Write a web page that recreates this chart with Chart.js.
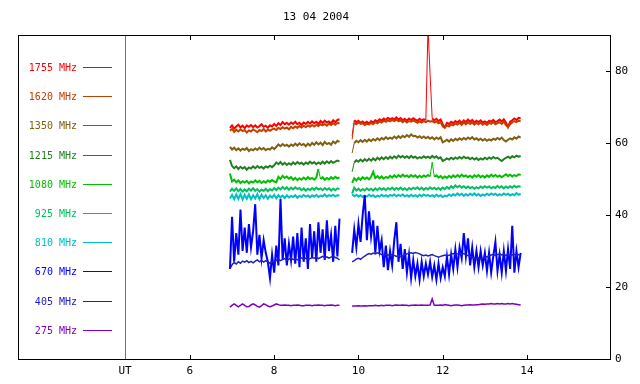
<!DOCTYPE html>
<html>
<head>
<meta charset="utf-8">
<script src="https://cdn.jsdelivr.net/npm/chart.js@4"></script>
<style>
  body { margin: 0; background: #fff; }
  canvas { display: block; }
</style>
</head>
<body>
<canvas id="myChart" width="640" height="384"></canvas>
<script>
// sample times (UT hours), a null at 9.70 marks the data gap
const times = [
  6.95, 7.00, 7.05, 7.10, 7.15, 7.20, 7.25, 7.30, 7.35, 7.40,
  7.45, 7.50, 7.55, 7.60, 7.65, 7.70, 7.75, 7.80, 7.85, 7.90,
  7.95, 8.00, 8.05, 8.10, 8.15, 8.20, 8.25, 8.30, 8.35, 8.40,
  8.45, 8.50, 8.55, 8.60, 8.65, 8.70, 8.75, 8.80, 8.85, 8.90,
  8.95, 9.00, 9.05, 9.10, 9.15, 9.20, 9.25, 9.30, 9.35, 9.40,
  9.45, 9.50, 9.55,
  9.70,
  9.85, 9.90, 9.95, 10.00, 10.05, 10.10, 10.15, 10.20, 10.25, 10.30,
  10.35, 10.40, 10.45, 10.50, 10.55, 10.60, 10.65, 10.70, 10.75, 10.80,
  10.85, 10.90, 10.95, 11.00, 11.05, 11.10, 11.15, 11.20, 11.25, 11.30,
  11.35, 11.40, 11.45, 11.50, 11.55, 11.60, 11.65, 11.70, 11.75, 11.80,
  11.85, 11.90, 11.95, 12.00, 12.05, 12.10, 12.15, 12.20, 12.25, 12.30,
  12.35, 12.40, 12.45, 12.50, 12.55, 12.60, 12.65, 12.70, 12.75, 12.80,
  12.85, 12.90, 12.95, 13.00, 13.05, 13.10, 13.15, 13.20, 13.25, 13.30,
  13.35, 13.40, 13.45, 13.50, 13.55, 13.60, 13.65, 13.70, 13.75, 13.80,
  13.85
];

const labels = ["1755 MHz", "1620 MHz", "1350 MHz", "1215 MHz", "1080 MHz",
                "925 MHz", "810 MHz", "670 MHz", "405 MHz", "275 MHz"];
const colors = ["#ff0000", "#c04000", "#806010", "#208020", "#00c000",
                "#00c060", "#00c0c0", "#0000ff", "#2020c0", "#8000c0"];

const xTickValues = [6, 8, 10, 12, 14];
const yTickValues = [0, 20, 40, 60, 80];
const utPosition = 4.46;
const title = "13 04 2004";

const f1755 = [
  64.2, 64.9, 64.0, 64.6, 65.1, 64.3, 64.8, 64.1, 64.9, 64.5,
  65.0, 64.4, 64.9, 64.3, 64.7, 65.2, 64.5, 64.8, 64.2, 64.9,
  64.6, 65.3, 64.7, 65.5, 65.0, 65.8, 65.2, 65.6, 65.1, 65.7,
  65.3, 65.9, 65.2, 65.6, 65.0, 65.7, 65.3, 65.9, 65.4, 66.0,
  65.5, 65.9, 65.3, 66.1, 65.6, 66.2, 65.7, 66.0, 65.5, 66.3,
  65.8, 66.4, 66.6,
  null,
  62.0, 66.3, 65.8, 66.2, 65.6, 66.0, 65.5, 65.9, 65.4, 66.1,
  65.7, 66.3, 66.0, 66.6, 66.2, 66.8, 66.4, 67.0, 66.5, 66.9,
  66.6, 67.1, 66.5, 66.9, 66.3, 66.7, 66.2, 66.8, 66.4, 66.9,
  66.5, 66.2, 66.7, 66.3, 66.6, 66.4, 92.0, 79.0, 66.8, 66.3,
  66.7, 66.1, 66.5, 65.2, 64.3, 65.6, 65.3, 65.9, 65.5, 66.1,
  65.7, 66.2, 65.6, 66.3, 65.8, 66.5, 65.9, 66.4, 65.7, 66.2,
  65.8, 66.3, 65.7, 66.0, 65.6, 66.2, 65.9, 66.4, 65.8, 66.1,
  66.5, 66.0, 66.6, 65.7, 64.4, 65.9, 66.3, 66.8, 66.4, 67.0,
  66.8
];
const f1620 = [
  63.4, 63.9, 63.1, 63.7, 63.2, 63.8, 63.3, 63.6, 62.9, 63.5,
  63.2, 63.8, 63.4, 63.0, 63.6, 63.3, 63.9, 63.2, 63.7, 63.4,
  63.8, 64.0, 63.6, 64.2, 63.9, 64.4, 64.0, 64.3, 63.8, 64.5,
  64.1, 64.6, 64.2, 64.7, 64.3, 64.8, 64.4, 64.9, 64.5, 65.0,
  64.6, 65.1, 64.7, 65.2, 64.9, 65.3, 64.8, 65.4, 65.0, 65.5,
  65.1, 65.6, 65.4,
  null,
  61.0, 65.6, 65.2, 65.7, 65.3, 65.5, 65.0, 65.4, 65.1, 65.6,
  65.2, 65.8, 65.5, 66.0, 65.7, 66.2, 65.9, 66.3, 66.0, 66.4,
  66.1, 66.5, 66.0, 66.3, 65.8, 66.2, 65.7, 66.1, 65.9, 66.3,
  65.9, 65.6, 66.0, 65.7, 66.1, 65.8, 66.2, 65.9, 66.1, 65.7,
  66.0, 65.5, 65.8, 64.6, 64.3, 64.9, 64.6, 65.2, 64.9, 65.4,
  65.1, 65.6, 65.0, 65.7, 65.2, 65.8, 65.3, 65.7, 65.1, 65.6,
  65.2, 65.7, 65.1, 65.5, 65.0, 65.6, 65.3, 65.8, 65.2, 65.5,
  65.8, 65.3, 65.9, 65.0, 64.5, 65.2, 65.7, 66.1, 65.8, 66.2,
  66.0
];
const f1350 = [
  58.9, 58.2, 58.7, 58.0, 58.5, 57.9, 58.4, 58.1, 58.6, 57.8,
  58.3, 58.0, 58.5, 58.1, 58.7, 58.2, 58.6, 58.0, 58.4, 58.2,
  58.8, 58.3, 58.9, 59.6, 59.1, 59.7, 59.2, 59.5, 59.0, 59.6,
  59.2, 59.8, 59.3, 59.9, 59.4, 59.7, 59.1, 59.8, 59.3, 60.0,
  59.5, 60.2, 59.6, 60.1, 59.4, 60.3, 59.7, 60.0, 59.5, 60.4,
  59.9, 60.6, 60.3,
  null,
  57.2, 60.0, 60.6, 60.2, 60.8, 60.3, 60.9, 60.4, 61.0, 60.5,
  61.1, 60.7, 61.3, 60.8, 61.4, 61.0, 61.6, 61.1, 61.5, 61.2,
  61.8, 61.3, 61.9, 61.4, 62.0, 61.6, 62.2, 61.7, 62.4, 61.9,
  62.0, 61.5, 61.9, 61.4, 61.8, 61.3, 61.7, 61.2, 61.6, 61.0,
  61.5, 61.1, 61.6, 60.2, 60.5, 60.9, 60.4, 61.0, 60.6, 61.2,
  60.8, 61.3, 60.9, 61.4, 61.0, 61.5, 61.1, 61.6, 61.0, 61.3,
  60.8, 61.2, 60.7, 61.1, 60.6, 61.0, 60.7, 61.2, 60.9, 61.4,
  61.0, 61.5, 60.8, 60.4, 60.9, 61.3, 61.0, 61.6, 61.2, 61.8,
  61.5
];
const f1215 = [
  55.3, 53.6, 53.0, 53.5, 52.8, 53.4, 52.9, 53.3, 52.6, 53.2,
  52.9, 53.5, 53.0, 53.6, 53.1, 53.4, 52.9, 53.5, 53.2, 53.7,
  53.3, 53.8, 54.6, 54.1, 54.7, 54.0, 54.5, 53.9, 54.4, 54.0,
  54.6, 54.1, 54.7, 54.2, 54.5, 54.0, 54.6, 54.2, 54.8, 54.3,
  54.7, 54.1, 54.6, 54.2, 54.8, 54.3, 54.9, 54.4, 55.0, 54.5,
  54.8, 55.1, 54.9,
  null,
  52.0, 54.6, 55.2, 54.8, 55.4, 54.9, 55.5, 55.0, 55.6, 55.1,
  55.7, 55.2, 55.9, 55.4, 56.0, 55.5, 56.1, 55.6, 56.2, 55.7,
  56.3, 55.8, 56.5, 56.0, 56.4, 55.9, 56.3, 55.8, 56.4, 55.9,
  56.2, 55.7, 56.1, 55.8, 56.3, 55.9, 56.2, 55.8, 56.4, 55.9,
  56.3, 55.7, 56.0, 55.0, 55.3, 55.7, 55.4, 55.9, 55.5, 56.0,
  55.6, 56.1, 55.7, 56.2, 55.8, 56.0, 55.5, 55.9, 55.4, 55.8,
  55.3, 55.7, 55.4, 55.9, 55.5, 56.0, 55.6, 56.1, 55.7, 55.9,
  55.4, 55.0, 55.5, 55.9, 56.2, 55.8, 56.3, 56.0, 56.5, 56.2,
  56.4
];
const f1080 = [
  51.5, 49.3, 49.8, 49.1, 49.6, 48.9, 49.4, 49.0, 49.5, 48.8,
  49.3, 49.0, 49.6, 49.1, 49.5, 48.9, 49.4, 49.0, 49.6, 49.2,
  49.7, 49.3, 49.1, 50.6, 50.0, 50.9, 50.3, 50.7, 50.1, 50.5,
  49.8, 50.3, 49.7, 50.2, 49.8, 50.4, 49.9, 50.5, 50.0, 50.3,
  49.8, 50.4, 52.8, 50.0, 50.5, 49.8, 50.3, 49.9, 50.5, 50.0,
  50.6, 50.2, 50.4,
  null,
  48.9, 50.2, 49.6, 50.3, 49.8, 50.5, 50.0, 50.4, 49.9, 50.6,
  52.0, 50.3, 50.8, 50.2, 50.7, 50.1, 50.6, 50.3, 50.9, 50.4,
  51.0, 50.5, 51.1, 50.6, 51.2, 50.7, 51.0, 50.5, 51.1, 50.6,
  51.0, 50.4, 50.9, 50.5, 51.0, 50.6, 51.1, 50.7, 54.7, 50.6,
  51.0, 50.4, 50.8, 50.2, 50.7, 50.3, 50.9, 50.4, 51.0, 50.5,
  51.1, 50.6, 51.2, 50.7, 51.0, 50.5, 50.9, 50.4, 51.0, 50.6,
  51.1, 50.5, 50.9, 50.4, 51.0, 50.6, 51.2, 50.7, 51.1, 50.6,
  51.0, 50.5, 50.9, 51.3, 50.8, 51.2, 50.7, 51.1, 50.8, 51.3,
  51.1
];
const f925 = [
  46.5, 47.3, 46.7, 47.4, 46.6, 47.2, 46.5, 47.1, 46.6, 47.3,
  46.8, 47.4, 46.7, 47.2, 46.5, 47.1, 46.7, 47.3, 46.6, 47.2,
  46.8, 47.5, 46.9, 47.6, 47.1, 47.8, 47.2, 47.7, 47.0, 47.6,
  47.1, 47.7, 47.2, 47.5, 46.9, 47.4, 46.8, 47.3, 46.9, 47.5,
  47.0, 47.6, 47.1, 47.4, 46.9, 47.5, 47.0, 47.4, 46.8, 47.3,
  46.9, 47.4, 47.2,
  null,
  46.0, 47.6, 46.8, 47.3, 46.7, 47.2, 46.8, 47.4, 46.9, 47.3,
  46.8, 47.4, 46.9, 47.5, 47.0, 47.4, 46.9, 47.5, 47.1, 47.6,
  47.0, 47.5, 47.1, 47.6, 47.0, 47.4, 46.9, 47.5, 47.1, 47.6,
  47.2, 47.7, 47.1, 47.6, 47.0, 47.5, 47.1, 47.7, 47.2, 47.6,
  47.1, 47.5, 47.0, 47.6, 47.2, 47.8, 47.3, 48.0, 47.5, 48.2,
  47.7, 48.1, 47.6, 48.0, 47.5, 47.9, 47.4, 47.8, 47.3, 47.7,
  47.4, 47.9, 47.5, 48.0, 47.6, 47.9, 47.4, 47.8, 47.5, 48.1,
  47.6, 48.0, 47.4, 47.9, 47.5, 48.0, 47.6, 48.1, 47.7, 48.0,
  47.8
];
const f810 = [
  44.6, 45.6, 44.4, 45.7, 44.5, 45.8, 44.3, 45.6, 44.5, 45.7,
  44.4, 45.5, 44.6, 45.8, 44.4, 45.6, 44.7, 45.5, 44.5, 45.4,
  44.8, 45.6, 44.6, 45.5, 44.9, 45.4, 44.7, 45.5, 44.9, 45.3,
  45.0, 45.5, 44.8, 45.3, 45.0, 45.6, 45.1, 45.4, 44.9, 45.5,
  45.1, 45.6, 45.0, 45.4, 45.2, 45.7, 45.1, 45.5, 45.3, 45.6,
  45.2, 45.5, 45.4,
  null,
  45.8, 45.2, 45.6, 45.1, 45.5, 45.0, 45.4, 45.1, 45.6, 45.2,
  45.5, 45.0, 45.4, 45.1, 45.6, 45.2, 45.5, 45.1, 45.6, 45.3,
  45.7, 45.2, 45.6, 45.3, 45.7, 45.2, 45.5, 45.1, 45.6, 45.2,
  45.5, 45.1, 45.6, 45.2, 45.7, 45.3, 45.6, 45.2, 45.5, 45.1,
  45.6, 45.2, 45.5, 45.0, 45.4, 45.2, 45.7, 45.3, 45.8, 45.4,
  46.0, 45.5, 45.9, 45.3, 45.8, 45.4, 45.9, 45.5, 46.0, 45.4,
  45.8, 45.3, 45.7, 45.4, 45.9, 45.5, 46.0, 45.6, 45.9, 45.4,
  45.8, 45.5, 46.0, 45.6, 45.9, 45.4, 45.8, 45.5, 46.1, 45.6,
  45.9
];
const f670 = [
  25.0, 39.5, 27.0, 35.0, 29.0, 41.5, 30.0, 36.5, 29.5, 37.5,
  31.0, 35.5, 43.0, 29.0, 34.5, 28.0, 33.0, 29.5, 27.0, 22.5,
  29.0, 24.0, 31.5, 26.0, 44.5, 27.5, 33.5, 26.0, 32.0, 27.5,
  34.0, 26.5, 35.0, 25.5, 36.5, 27.0, 33.5, 25.0, 37.5, 28.0,
  35.5, 27.0, 38.0, 29.5, 36.0, 27.5, 38.5, 30.0, 34.5, 27.0,
  37.0, 28.5, 39.0,
  null,
  29.5, 36.0, 31.0, 37.5, 32.5, 40.0, 45.5, 33.0, 41.0, 34.0,
  38.5, 29.5, 37.0, 30.0, 33.0, 25.5, 31.5, 24.7, 30.0, 26.0,
  33.0, 38.0, 27.0, 32.0, 25.0, 30.5, 24.0, 29.0, 22.5, 27.5,
  23.0, 26.5, 22.0, 27.0, 23.0, 26.5, 23.5, 27.0, 22.8, 26.0,
  22.0, 26.5, 22.5, 25.5, 23.0, 28.5, 23.5, 29.0, 25.0, 30.5,
  25.5, 31.0, 28.0, 35.0, 28.5, 33.5, 26.0, 31.0, 25.5, 30.0,
  25.5, 30.0, 26.0, 29.5, 24.5, 29.5, 24.0, 28.5, 32.5, 24.5,
  29.0, 24.0, 30.0, 24.5, 30.5, 25.0, 37.0, 24.0, 30.0, 25.5,
  29.5
];
const f405 = [
  25.0, 26.2, 26.8, 26.4, 27.0, 26.6, 27.2, 26.9, 27.3, 26.8,
  27.1, 26.7, 27.2, 27.5, 27.0, 27.4, 26.9, 27.3, 27.0, 26.6,
  27.1, 26.8, 27.4, 27.8, 27.3, 27.6, 27.9, 27.4, 27.7, 28.0,
  27.6, 27.9, 27.5, 27.8, 28.1, 27.7, 28.0, 27.6, 27.9, 28.2,
  28.0, 28.3, 27.9, 28.2, 28.5, 28.1, 28.4, 28.0, 28.3, 28.6,
  28.2, 28.0, 27.5,
  null,
  27.0, 27.3, 27.8, 28.0, 27.7, 28.2, 28.6, 29.0, 29.3, 29.1,
  29.4, 29.2, 29.5, 29.3, 29.0, 28.8, 29.1, 28.9, 28.7, 29.0,
  28.8, 28.5, 28.7, 28.4, 28.6, 28.9, 29.2, 29.4, 29.5, 29.3,
  29.6, 29.4, 29.2, 28.9, 28.7, 28.9, 28.6, 28.8, 29.0, 28.7,
  28.5, 28.3, 28.5, 28.7, 28.9, 28.6, 28.8, 29.1, 29.3, 29.0,
  29.2, 29.4, 29.1, 29.3, 29.0, 28.7, 28.5, 28.2, 28.0, 27.9,
  28.1, 27.8, 28.0, 28.2, 28.4, 28.6, 28.9, 29.1, 28.8, 29.0,
  29.2, 28.9, 29.1, 28.8, 29.0, 28.7, 28.9, 29.1, 28.8, 29.0,
  28.7
];
const f275 = [
  14.4, 14.9, 15.3, 14.9, 14.5, 14.9, 15.3, 14.9, 14.5, 14.6,
  15.0, 15.3, 15.0, 14.6, 14.4, 14.8, 15.3, 15.1, 14.7, 14.5,
  14.7, 15.0, 15.3, 15.1, 14.9, 14.9, 15.0, 14.9, 14.9, 14.8,
  14.9, 14.9, 15.0, 14.9, 14.8, 14.8, 14.9, 14.9, 14.9, 14.8,
  14.9, 14.9, 15.0, 14.9, 14.9, 14.8, 14.9, 14.9, 15.0, 14.9,
  14.8, 14.9, 14.9,
  null,
  14.7, 14.7, 14.7, 14.8, 14.7, 14.7, 14.8, 14.7, 14.8, 14.8,
  14.8, 14.9, 14.8, 14.8, 14.9, 14.8, 14.9, 14.9, 14.9, 14.8,
  14.9, 15.0, 14.9, 14.9, 15.0, 14.9, 14.9, 14.8, 14.9, 14.9,
  15.0, 14.9, 14.9, 15.0, 14.9, 14.9, 14.9, 15.0, 16.7, 14.9,
  14.9, 14.9, 15.0, 14.9, 15.1, 15.0, 14.9, 14.8, 14.9, 15.0,
  15.0, 14.9, 14.8, 14.9, 15.0, 15.0, 15.1, 15.0, 15.0, 15.1,
  15.1, 15.2, 15.3, 15.2, 15.3, 15.3, 15.4, 15.3, 15.3, 15.4,
  15.3, 15.4, 15.3, 15.3, 15.4, 15.3, 15.4, 15.3, 15.2, 15.1,
  15.0
];

const series = [f1755, f1620, f1350, f1215, f1080, f925, f810, f670, f405, f275];
// noisy channels look like thick bands in the original
const lineWidths = [2, 2, 2, 2, 2, 2, 2, 2, 1.5, 1.5];
const monoFont = "'DejaVu Sans Mono', monospace";

// isolated spikes are drawn thin, like single samples
const thinSpikes = ctx => {
  const a = ctx.p0.parsed.y, b = ctx.p1.parsed.y;
  return Math.abs(a - b) > 2.5 && Math.max(a, b) > 52 ? 1 : undefined;
};

// frame, inward ticks, UT divider, title and the side legend (gnuplot look)
const gnuplotFrame = {
  id: "gnuplotFrame",
  beforeDatasetsDraw(chart) {
    const { ctx, chartArea: a, scales: { x } } = chart;
    const px = Math.round(x.getPixelForValue(utPosition));
    ctx.save();
    ctx.fillStyle = "#707070";
    ctx.fillRect(px, a.top, 1, a.bottom - a.top);
    ctx.restore();
  },
  afterDraw(chart) {
    const { ctx, chartArea: a, scales: { x, y } } = chart;
    ctx.save();
    ctx.fillStyle = "#000";
    const l = Math.round(a.left), r = Math.round(a.right);
    const t = Math.round(a.top), b = Math.round(a.bottom);
    ctx.fillRect(l, t, r - l + 1, 1);
    ctx.fillRect(l, b, r - l + 1, 1);
    ctx.fillRect(l, t, 1, b - t + 1);
    ctx.fillRect(r, t, 1, b - t + 1);
    xTickValues.forEach(v => {
      const px = Math.round(x.getPixelForValue(v));
      ctx.fillRect(px, t, 1, 5);
      ctx.fillRect(px, b - 4, 1, 5);
    });
    yTickValues.forEach(v => {
      const py = Math.round(y.getPixelForValue(v));
      ctx.fillRect(r - 4, py, 5, 1);
    });

    ctx.font = "11px " + monoFont;
    ctx.textAlign = "center";
    ctx.textBaseline = "middle";
    ctx.fillText(title, 316, 17);

    ctx.font = "10px " + monoFont;
    ctx.textAlign = "right";
    labels.forEach((lab, i) => {
      const ly = Math.round(67 + i * 29.2);
      ctx.fillStyle = colors[i];
      ctx.fillText(lab, 77, ly + 1);
      ctx.fillRect(83, ly, 29, 1);
    });
    ctx.restore();
  }
};

const ctx = document.getElementById("myChart").getContext("2d");
const myChart = new Chart(ctx, {
  type: "line",
  data: {
    datasets: series.map((vals, i) => ({
      label: labels[i],
      data: times.map((t, k) => ({ x: t, y: vals[k] })),
      borderColor: colors[i],
      borderWidth: lineWidths[i],
      pointRadius: 0,
      tension: 0,
      spanGaps: false,
      segment: { borderWidth: thinSpikes },
      order: series.length - i
    }))
  },
  options: {
    responsive: false,
    animation: false,
    devicePixelRatio: 1,
    layout: { padding: { left: 18, top: 35, right: 0, bottom: 0 } },
    plugins: {
      legend: { display: false },
      title: { display: false },
      tooltip: { enabled: false }
    },
    scales: {
      x: {
        type: "linear",
        min: 1.92,
        max: 15.97,
        grid: { display: false, drawTicks: false },
        border: { display: false },
        afterBuildTicks: scale => {
          scale.ticks = [utPosition, ...xTickValues].map(v => ({ value: v }));
        },
        afterFit: scale => { scale.height = 25; },
        ticks: {
          autoSkip: false,
          maxRotation: 0,
          padding: 6,
          color: "#000",
          font: { family: monoFont, size: 11 },
          callback: v => (v === utPosition ? "UT" : String(v))
        }
      },
      y: {
        type: "linear",
        position: "right",
        min: 0,
        max: 90,
        grid: { display: false, drawTicks: false },
        border: { display: false },
        afterBuildTicks: scale => {
          scale.ticks = yTickValues.map(v => ({ value: v }));
        },
        afterFit: scale => { scale.width = 30; },
        ticks: {
          padding: 5,
          color: "#000",
          font: { family: monoFont, size: 11 }
        }
      }
    }
  },
  plugins: [gnuplotFrame]
});
</script>
</body>
</html>
